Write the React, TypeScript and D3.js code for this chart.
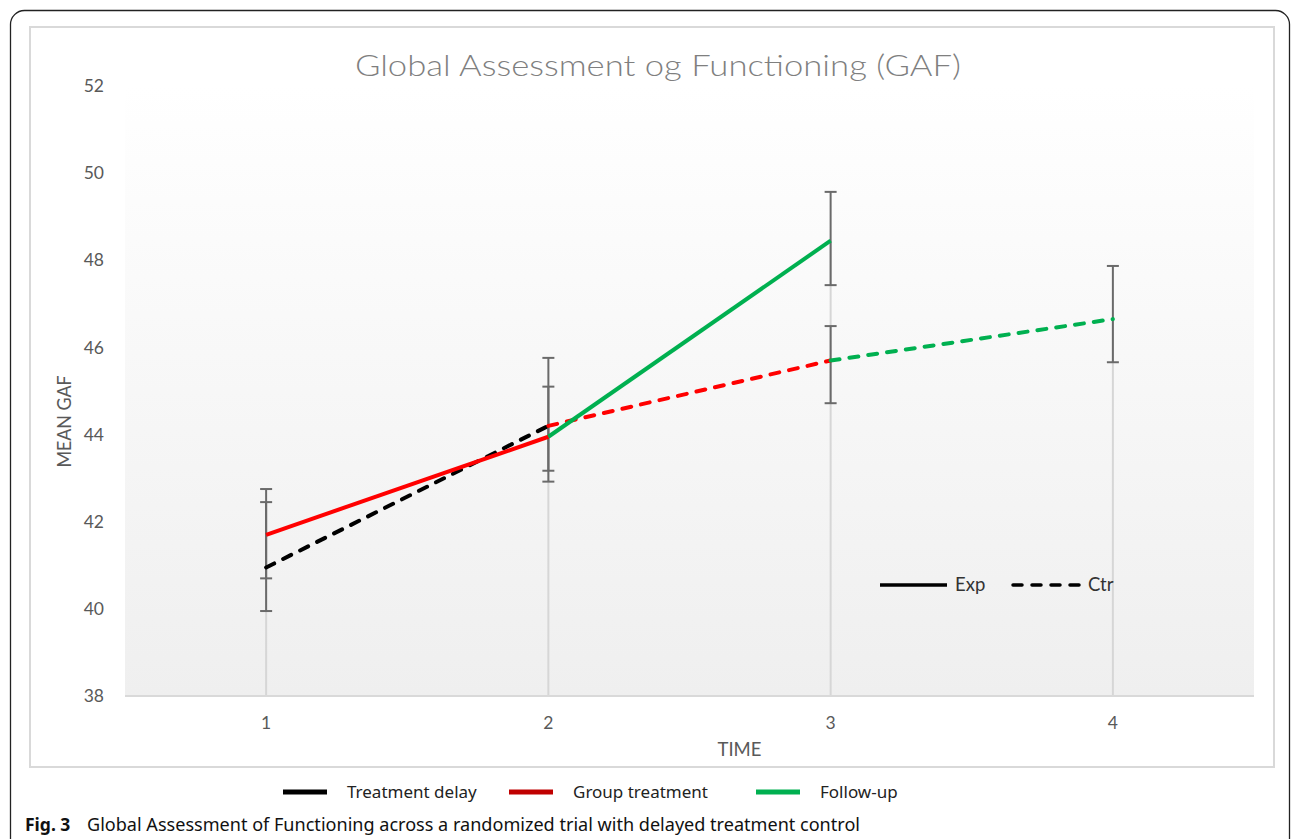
import React from "react";
import * as d3 from "d3";

// values
const times = ["1", "2", "3", "4"];
const yTicks = [38, 40, 42, 44, 46, 48, 50, 52];

const expMean = [41.7, 43.95, 48.45];
const expLow = [40.7, 42.92, 47.43];
const expHigh = [42.75, 45.1, 49.57];

const ctrMean = [40.95, 44.2, 45.7, 46.65];
const ctrLow = [39.95, 43.17, 44.72, 45.66];
const ctrHigh = [42.45, 45.76, 46.49, 47.87];

const phases = ["Treatment delay", "Group treatment", "Follow-up"];
const phaseColors = ["#000000", "#ff0000", "#00b050"];
const phaseKeyColors = ["#000000", "#c00000", "#00b050"];
const expPhase = [1, 2]; // phase of segment i -> i+1
const ctrPhase = [0, 1, 2];
const groups = ["Exp", "Ctr"];

const W = 1295, H = 839;
const m = { l: 125, r: 1254, t: 86, b: 696 };
const FONT = "Lato, 'Open Sans', sans-serif";
const CAP = "'Noto Sans', 'Open Sans', sans-serif";
const DASH = "9,10";

export default function App() {
  const x = d3.scaleBand().domain(times).range([m.l, m.r]);
  const cx = (t: string) => (x(t) as number) + x.bandwidth() / 2;
  const y = d3.scaleLinear().domain([38, 52]).range([m.b, m.t]);
  const line = d3.line<[string, number]>().x((d) => cx(d[0])).y((d) => y(d[1]));

  const seg = (means: number[], i: number) =>
    line([[times[i], means[i]], [times[i + 1], means[i + 1]]]) || "";

  const tops = times.map((t, i) => d3.max([expMean[i], ctrMean[i]].filter((v) => v != null)) as number);

  const bars: { t: string; lo: number; hi: number }[] = [];
  expMean.forEach((_, i) => bars.push({ t: times[i], lo: expLow[i], hi: expHigh[i] }));
  ctrMean.forEach((_, i) => bars.push({ t: times[i], lo: ctrLow[i], hi: ctrHigh[i] }));

  const keyStart = [283, 509, 756];
  const groupKeyY = y(40.55);

  return (
    <svg width={W} height={H} style={{ position: "absolute", left: 0, top: 0, background: "#fff" }}>
      <defs>
        <linearGradient id="bg" x1="0" y1="0" x2="0" y2="1">
          <stop offset="0" stopColor="#ffffff" />
          <stop offset="1" stopColor="#efefef" />
        </linearGradient>
      </defs>
      {/* outer figure frame */}
      <rect x={10.5} y={10.5} width={1279} height={850} rx={14} fill="none" stroke="#222" strokeWidth={1.3} />
      {/* chart area box */}
      <rect x={30} y={27} width={1244} height={740} fill="#fff" stroke="#d9d9d9" strokeWidth={2} />
      {/* plot area */}
      <rect x={m.l} y={m.t} width={m.r - m.l} height={m.b - m.t} fill="url(#bg)" />

      <text x={658} y={76} textAnchor="middle" fontFamily={FONT} fontWeight={300} fontSize={29}
        fill="#7f7f7f" textLength={606} lengthAdjust="spacingAndGlyphs">
        Global Assessment og Functioning (GAF)
      </text>

      {/* drop lines */}
      {times.map((t, i) => (
        <line key={t} x1={cx(t)} x2={cx(t)} y1={y(tops[i])} y2={m.b} stroke="#d6d6d6" strokeWidth={2} />
      ))}
      <line x1={m.l} x2={m.r} y1={m.b} y2={m.b} stroke="#d9d9d9" strokeWidth={2} />

      {/* y ticks */}
      {yTicks.map((v) => (
        <text key={v} x={104} y={y(v)} dy="0.35em" textAnchor="end" fontFamily={FONT} fontSize={17.5} fill="#595959">
          {v}
        </text>
      ))}
      {times.map((t) => (
        <text key={t} x={cx(t)} y={729} textAnchor="middle" fontFamily={FONT} fontSize={17.5} fill="#595959">
          {t}
        </text>
      ))}
      <text x={(m.l + m.r) / 2 + 50} y={756} textAnchor="middle" fontFamily={FONT} fontSize={18.5} fill="#595959">
        TIME
      </text>
      <text transform={`translate(71,${y(44.3)}) rotate(-90)`} textAnchor="middle" fontFamily={FONT}
        fontSize={18.5} fill="#595959" textLength={92} lengthAdjust="spacingAndGlyphs">
        MEAN GAF
      </text>

      {/* error bars */}
      {bars.map((b, i) => (
        <g key={i} stroke="#6a6a6a" strokeWidth={2}>
          <line x1={cx(b.t)} x2={cx(b.t)} y1={y(b.lo)} y2={y(b.hi)} />
          <line x1={cx(b.t) - 6} x2={cx(b.t) + 6} y1={y(b.lo)} y2={y(b.lo)} />
          <line x1={cx(b.t) - 6} x2={cx(b.t) + 6} y1={y(b.hi)} y2={y(b.hi)} />
        </g>
      ))}

      {/* control (dashed) */}
      {ctrPhase.map((p, i) => (
        <path key={"c" + i} d={seg(ctrMean, i)} fill="none" stroke={phaseColors[p]} strokeWidth={4}
          strokeDasharray={DASH} strokeLinecap="round" />
      ))}
      {/* experimental (solid) */}
      {expPhase.map((p, i) => (
        <path key={"e" + i} d={seg(expMean, i)} fill="none" stroke={phaseColors[p]} strokeWidth={4} />
      ))}

      {/* Exp / Ctr key */}
      {groups.map((g, i) => {
        const x0 = 880 + i * 133;
        return (
          <g key={g}>
            <line x1={x0} x2={x0 + 67} y1={groupKeyY} y2={groupKeyY} stroke="#000" strokeWidth={3.5}
              strokeDasharray={i ? DASH : undefined} strokeLinecap={i ? "round" : "butt"} />
            <text x={x0 + 75} y={groupKeyY} dy="0.35em" fontFamily={FONT} fontSize={18.5} fill="#333">
              {g}
            </text>
          </g>
        );
      })}

      {/* phase legend */}
      {phases.map((p, i) => (
        <g key={p}>
          <line x1={keyStart[i]} x2={keyStart[i] + 44} y1={792} y2={792} stroke={phaseKeyColors[i]} strokeWidth={5} />
          <text x={keyStart[i] + 64} y={798} fontFamily={CAP} fontSize={17} fill="#222">
            {p}
          </text>
        </g>
      ))}

      {/* caption */}
      <text x={25} y={831} fontFamily={CAP} fontSize={17.5} fill="#111">
        <tspan fontWeight={700}>Fig. 3</tspan>
      </text>
      <text x={87} y={831} fontFamily={CAP} fontSize={17.5} fill="#111"
        textLength={773} lengthAdjust="spacingAndGlyphs">
        Global Assessment of Functioning across a randomized trial with delayed treatment control
      </text>
    </svg>
  );
}
